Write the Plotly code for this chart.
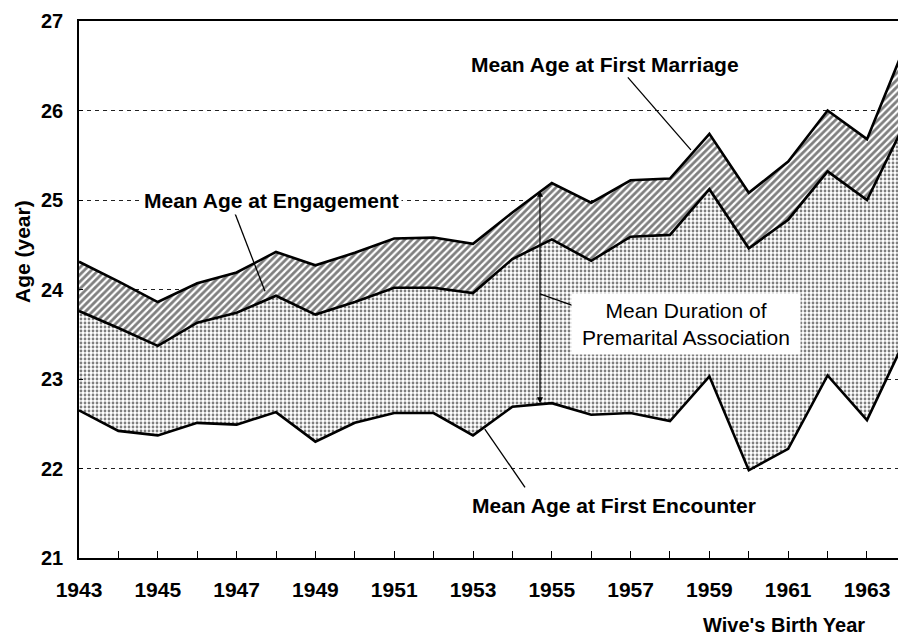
import plotly.graph_objects as go

years = list(range(1943, 1965))
marriage = [24.31, 24.09, 23.86, 24.07, 24.19, 24.42, 24.27, 24.41, 24.57, 24.58, 24.51,
            24.86, 25.19, 24.97, 25.22, 25.24, 25.74, 25.08, 25.43, 26.00, 25.68, 26.76]
engagement = [23.76, 23.57, 23.37, 23.63, 23.74, 23.93, 23.72, 23.86, 24.02, 24.02, 23.96,
              24.34, 24.56, 24.32, 24.59, 24.61, 25.12, 24.46, 24.78, 25.32, 25.00, 25.89]
encounter = [22.65, 22.42, 22.37, 22.51, 22.49, 22.63, 22.30, 22.51, 22.62, 22.62, 22.37,
             22.69, 22.73, 22.60, 22.62, 22.53, 23.03, 21.98, 22.22, 23.04, 22.54, 23.47]

x_tick_vals = years
x_tick_text = [str(y) if (y - 1943) % 2 == 0 else "" for y in years]
y_tick_vals = [21, 22, 23, 24, 25, 26, 27]
y_tick_text = ["21", "22", "23", "24", "25", "26", "27"]

FONT = "Liberation Sans, Arial, sans-serif"

fig = go.Figure()
fig.add_trace(go.Scatter(x=years, y=encounter, mode="lines",
                         line=dict(color="black", width=2.6), showlegend=False,
                         name="Mean Age at First Encounter"))
fig.add_trace(go.Scatter(x=years, y=engagement, mode="lines", fill="tonexty",
                         fillpattern=dict(shape=".", fgcolor="black", bgcolor="white",
                                          size=4, solidity=0.38),
                         line=dict(color="black", width=2.6), showlegend=False,
                         name="Mean Age at Engagement"))
fig.add_trace(go.Scatter(x=years, y=marriage, mode="lines", fill="tonexty",
                         fillpattern=dict(shape="/", fgcolor="black", bgcolor="white",
                                          size=5, solidity=0.55),
                         line=dict(color="black", width=2.6), showlegend=False,
                         name="Mean Age at First Marriage"))

bold = dict(family=FONT, size=21, color="black", weight="bold")
reg = dict(family=FONT, size=21, color="black")

annotations = [
    dict(x=1956.35, y=26.51, text="Mean Age at First Marriage", showarrow=False,
         font=bold, xanchor="center", yanchor="middle"),
    dict(x=1947.89, y=25.0, text="Mean Age at Engagement", showarrow=False,
         font=bold, xanchor="center", yanchor="middle", bgcolor="white", borderpad=2),
    dict(x=1956.57, y=21.59, text="Mean Age at First Encounter", showarrow=False,
         font=bold, xanchor="center", yanchor="middle"),
    dict(x=1958.41, y=23.62, text="Mean Duration of<br>Premarital Association",
         showarrow=False, font=reg, xanchor="center", yanchor="middle",
         bgcolor="white", width=224, height=56, borderpad=2),
    dict(x=1954.70, y=22.73, ax=1954.70, ay=25.12, axref="x", ayref="y",
         xref="x", yref="y", text="", showarrow=True, arrowhead=2,
         arrowside="end+start", arrowsize=1, arrowwidth=1.2, arrowcolor="black",
         standoff=0, startstandoff=0),
    dict(x=-0.0696, xref="paper", y=24.43, yref="y", text="Age (year)", textangle=-90,
         showarrow=False, font=dict(family=FONT, size=21, color="black", weight="bold"),
         xanchor="center", yanchor="middle"),
    dict(x=0.861, xref="paper", y=-0.1248, yref="paper", text="Wive's Birth Year",
         showarrow=False, font=dict(family=FONT, size=20, color="black", weight="bold"),
         xanchor="center", yanchor="middle"),
]

line_style = dict(color="black", width=1.3)
shapes = [
    dict(type="line", xref="x", yref="y", x0=1956.93, y0=26.37, x1=1958.53, y1=25.56, line=line_style),
    dict(type="line", xref="x", yref="y", x0=1946.96, y0=24.85, x1=1947.72, y1=23.98, line=line_style),
    dict(type="line", xref="x", yref="y", x0=1953.30, y0=22.44, x1=1954.32, y1=21.79, line=line_style),
    dict(type="line", xref="x", yref="y", x0=1954.70, y0=23.95, x1=1955.79, y1=23.78, line=line_style),
]

fig.update_layout(
    width=898, height=638,
    margin=dict(l=79, r=0, t=21, b=80, autoexpand=False),
    plot_bgcolor="white", paper_bgcolor="white",
    annotations=annotations, shapes=shapes,
    xaxis=dict(range=[1943, 1963.787], tickvals=x_tick_vals, ticktext=x_tick_text,
               ticks="inside", ticklen=7, tickwidth=1.3, tickcolor="black",
               showline=True, linecolor="black", linewidth=1.6, mirror=True,
               showgrid=False, zeroline=False, ticklabelstandoff=12, automargin=False,
               tickfont=dict(family=FONT, size=21, color="black", weight="bold")),
    yaxis=dict(range=[21, 27], tickvals=y_tick_vals, ticktext=y_tick_text,
               ticks="inside", ticklen=4, tickwidth=1, tickcolor="black",
               showline=True, linecolor="black", linewidth=1.6, automargin=False,
               showgrid=True, gridcolor="#222", gridwidth=1, griddash="4px,4px",
               zeroline=False, ticklabelstandoff=10,
               tickfont=dict(family=FONT, size=20, color="black", weight="bold")),
)

fig.write_html("out.html", config={"displayModeBar": False},
               post_script="document.body.style.margin='0';document.body.style.overflow='hidden';")
